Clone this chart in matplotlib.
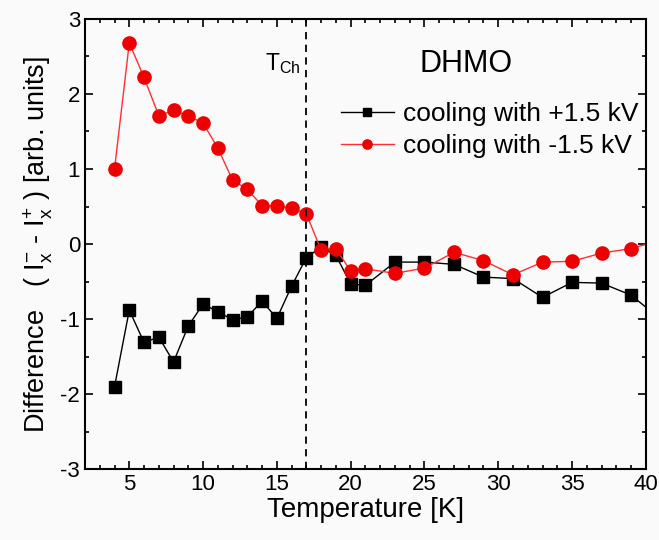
import numpy as np
import matplotlib
matplotlib.use("Agg")
import matplotlib.pyplot as plt
from matplotlib.ticker import MultipleLocator

plt.rcParams['font.family'] = ['Liberation Sans', 'DejaVu Sans']
plt.rcParams['mathtext.fontset'] = 'custom'
plt.rcParams['mathtext.rm'] = 'Liberation Sans'
plt.rcParams['mathtext.it'] = 'Liberation Sans'
plt.rcParams['axes.unicode_minus'] = False

# cooling with +1.5 kV (black squares)
temp_pos = [4, 5, 6, 7, 8, 9, 10, 11, 12, 13, 14, 15, 16, 17, 18, 19, 20, 21,
            23, 25, 27, 29, 31, 33, 35, 37, 39, 41]
diff_pos = [-1.90, -0.88, -1.31, -1.24, -1.57, -1.09, -0.80, -0.90, -1.01, -0.97,
            -0.76, -0.99, -0.56, -0.18, -0.04, -0.15, -0.53, -0.55,
            -0.24, -0.24, -0.27, -0.44, -0.46, -0.71, -0.51, -0.52, -0.68, -1.00]

# cooling with -1.5 kV (red circles)
temp_neg = [4, 5, 6, 7, 8, 9, 10, 11, 12, 13, 14, 15, 16, 17, 18, 19, 20, 21,
            23, 25, 27, 29, 31, 33, 35, 37, 39, 41]
diff_neg = [1.00, 2.68, 2.22, 1.71, 1.78, 1.71, 1.61, 1.28, 0.85, 0.73,
            0.51, 0.51, 0.48, 0.40, -0.08, -0.06, -0.36, -0.33,
            -0.39, -0.32, -0.11, -0.22, -0.41, -0.24, -0.23, -0.12, -0.06, 0.05]

t_ch = 17

fig = plt.figure(figsize=(6.59, 5.4), dpi=100, facecolor='#fafafa')
ax = fig.add_axes([0.129, 0.131, 0.851, 0.834])
ax.set_facecolor('#fafafa')

ax.plot(temp_pos, diff_pos, color='black', lw=1, marker='s', ms=9,
        label='cooling with +1.5 kV')
ax.plot(temp_neg, diff_neg, color='#ff3030', lw=1, marker='o', ms=9.5,
        mfc='#ee0000', mec='#ee0000', label='cooling with -1.5 kV')
ax.axvline(t_ch, color='black', ls=(0, (4, 3)), lw=1.3)

ax.set_xlim(2, 40)
ax.set_ylim(-3, 3)
ax.xaxis.set_major_locator(MultipleLocator(5))
ax.xaxis.set_minor_locator(MultipleLocator(1))
ax.yaxis.set_major_locator(MultipleLocator(1))
ax.yaxis.set_minor_locator(MultipleLocator(0.5))
ax.tick_params(which='both', direction='in', top=True, right=True, width=1.2,
               labelsize=16)
ax.tick_params(which='major', length=6)
ax.tick_params(which='minor', length=3)
for s in ax.spines.values():
    s.set_linewidth(1.5)

ax.set_xlabel('Temperature [K]', fontsize=20, labelpad=1)
ax.set_ylabel(r'Difference   ( I$_\mathrm{x}^{-}$ - I$_\mathrm{x}^{+}$ ) [arb. units]',
              fontsize=19.5, labelpad=4)

ax.text(16.6, 2.4, r'T$_\mathrm{Ch}$', fontsize=16.5, ha='right', va='center')
ax.text(27.8, 2.4, 'DHMO', fontsize=22, ha='center', va='center')

ax.legend(loc='upper right', bbox_to_anchor=(1.015, 0.85), frameon=False,
          fontsize=19, handlelength=2.0, handletextpad=0.35, labelspacing=0.3,
          borderaxespad=0.2, markerscale=0.7)

fig.savefig('out.png', dpi=100, facecolor=fig.get_facecolor())
